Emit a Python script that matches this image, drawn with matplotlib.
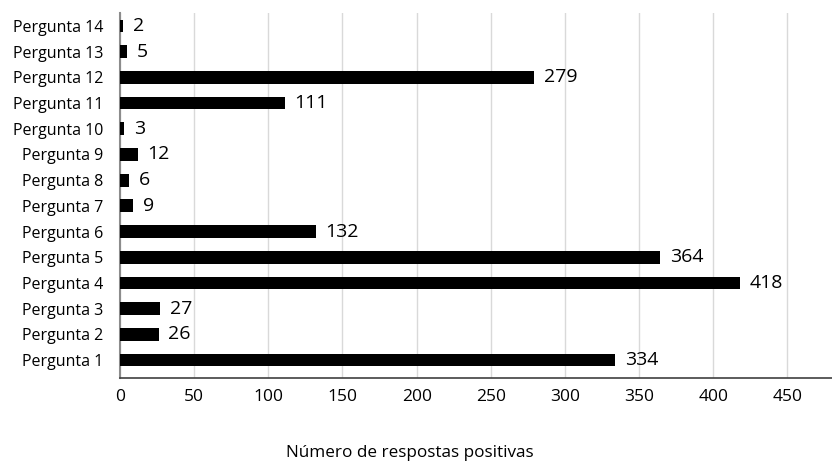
import matplotlib.pyplot as plt

plt.rcParams['font.family'] = ['Open Sans', 'DejaVu Sans']

perguntas = ['Pergunta 1', 'Pergunta 2', 'Pergunta 3', 'Pergunta 4', 'Pergunta 5',
             'Pergunta 6', 'Pergunta 7', 'Pergunta 8', 'Pergunta 9', 'Pergunta 10',
             'Pergunta 11', 'Pergunta 12', 'Pergunta 13', 'Pergunta 14']
respostas = [334, 26, 27, 418, 364, 132, 9, 6, 12, 3, 111, 279, 5, 2]
x_ticks = [0, 50, 100, 150, 200, 250, 300, 350, 400, 450]

fig = plt.figure(figsize=(8.32, 4.69), dpi=100)
ax = fig.add_axes([0.1442, 0.194, 0.8558, 0.778])

pos = list(range(len(perguntas)))
bars = ax.barh(pos, respostas, height=0.5, color='black', zorder=3)

for b, v in zip(bars, respostas):
    ax.annotate(str(v), xy=(b.get_width(), b.get_y() + b.get_height() / 2),
                xytext=(7, 0), textcoords='offset points',
                ha='left', va='center', fontsize=14, color='black')

ax.set_xlim(0, 480)
ax.set_ylim(-0.7, 13.5)
ax.set_yticks(pos)
ax.set_yticklabels(perguntas, fontsize=11.5)
ax.set_xticks(x_ticks)
ax.tick_params(axis='x', length=0, pad=8, labelsize=12.5)
ax.tick_params(axis='y', length=0, pad=12)

ax.grid(axis='x', color='#d9d9d9', linewidth=1, zorder=0)
ax.set_axisbelow(True)
for s in ['top', 'right']:
    ax.spines[s].set_visible(False)
ax.spines['left'].set_color('#8c8c8c')
ax.spines['left'].set_linewidth(1.5)
ax.spines['bottom'].set_color('#404040')
ax.spines['bottom'].set_linewidth(1.2)

fig.text(0.493, 0.034, 'Número de respostas positivas', ha='center', va='center',
         fontsize=12.3)

fig.savefig('out.png', dpi=100)
